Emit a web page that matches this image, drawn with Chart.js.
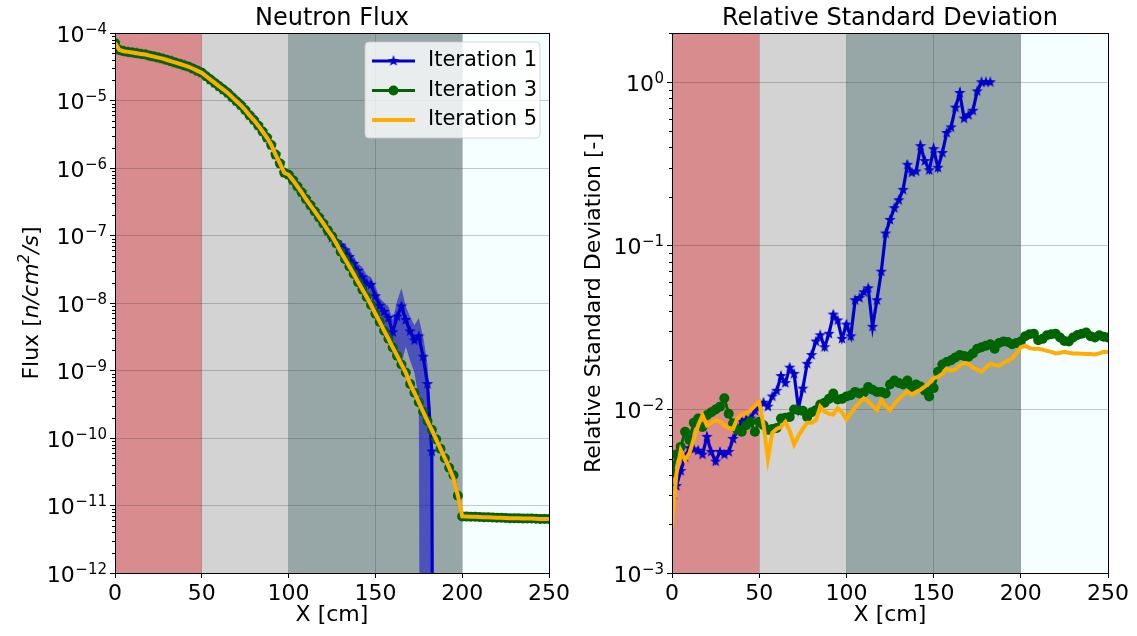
<!DOCTYPE html>
<html>
<head>
<meta charset="utf-8">
<script src="https://cdn.jsdelivr.net/npm/chart.js@4"></script>
<style>
  html, body { margin: 0; padding: 0; background: #fff; }
  #wrap { position: relative; width: 1137px; height: 636px; overflow: hidden; }
  canvas { position: absolute; top: 0; }
  #fluxChart { left: 0; }
  #rsdChart { left: 560px; }
</style>
</head>
<body>
<div id="wrap">
  <canvas id="fluxChart" width="600" height="636"></canvas>
  <canvas id="rsdChart" width="577" height="636"></canvas>
</div>
<script>
// mesh positions [cm]
const X_CM = [
  0, 2.5, 5, 7.5, 10, 12.5, 15, 17.5, 20, 22.5,
  25, 27.5, 30, 32.5, 35, 37.5, 40, 42.5, 45, 47.5,
  50, 52.5, 55, 57.5, 60, 62.5, 65, 67.5, 70, 72.5,
  75, 77.5, 80, 82.5, 85, 87.5, 90, 92.5, 95, 97.5,
  100, 102.5, 105, 107.5, 110, 112.5, 115, 117.5, 120, 122.5,
  125, 127.5, 130, 132.5, 135, 137.5, 140, 142.5, 145, 147.5,
  150, 152.5, 155, 157.5, 160, 162.5, 165, 167.5, 170, 172.5,
  175, 177.5, 180, 182.5, 185, 187.5, 190, 192.5, 195, 197.5,
  200, 202.5, 205, 207.5, 210, 212.5, 215, 217.5, 220, 222.5,
  225, 227.5, 230, 232.5, 235, 237.5, 240, 242.5, 245, 247.5,
  250
];

const SERIES_NAMES = ['Iteration 1', 'Iteration 3', 'Iteration 5'];

// neutron flux [n/cm^2/s]
const FLUX_IT1 = [
  7.08e-5, 5.62e-5, 5.37e-5, 5.25e-5, 5.13e-5, 5.01e-5, 4.90e-5, 4.79e-5, 4.62e-5, 4.47e-5,
  4.32e-5, 4.17e-5, 3.98e-5, 3.80e-5, 3.63e-5, 3.47e-5, 3.31e-5, 3.16e-5, 2.95e-5, 2.75e-5,
  2.57e-5, 2.29e-5, 2.04e-5, 1.82e-5, 1.62e-5, 1.45e-5, 1.29e-5, 1.12e-5, 9.77e-6, 8.51e-6,
  7.24e-6, 6.03e-6, 5.13e-6, 4.27e-6, 3.47e-6, 2.82e-6, 2.19e-6, 1.58e-6, 1.17e-6, 8.51e-7,
  7.94e-7, 6.61e-7, 5.37e-7, 4.37e-7, 3.47e-7, 2.82e-7, 2.29e-7, 1.86e-7, 1.51e-7, 1.15e-7,
  9.3e-8, 7.9e-8, 7.1e-8, 6.0e-8, 4.8e-8, 3.8e-8, 3.0e-8, 2.4e-8, 1.95e-8, 1.86e-8,
  1.26e-8, 9.1e-9, 7.4e-9, 6.0e-9, 3.7e-9, 6.3e-9, 8.9e-9, 5.6e-9, 3.8e-9, 2.8e-9,
  3.2e-9, 1.6e-9, 6.3e-10, 6.3e-11, 0, null, null, null, null, null,
  null, null, null, null, null, null, null, null, null, null,
  null, null, null, null, null, null, null, null, null, null,
  null
];
const FLUX_IT3 = [
  7.08e-5, 5.62e-5, 5.37e-5, 5.25e-5, 5.13e-5, 5.01e-5, 4.90e-5, 4.79e-5, 4.62e-5, 4.47e-5,
  4.32e-5, 4.17e-5, 3.98e-5, 3.80e-5, 3.63e-5, 3.47e-5, 3.31e-5, 3.16e-5, 2.95e-5, 2.75e-5,
  2.57e-5, 2.29e-5, 2.04e-5, 1.82e-5, 1.62e-5, 1.45e-5, 1.29e-5, 1.12e-5, 9.77e-6, 8.51e-6,
  7.24e-6, 6.03e-6, 5.13e-6, 4.27e-6, 3.47e-6, 2.82e-6, 2.19e-6, 1.58e-6, 1.17e-6, 8.51e-7,
  7.94e-7, 6.61e-7, 5.37e-7, 4.37e-7, 3.47e-7, 2.82e-7, 2.29e-7, 1.86e-7, 1.51e-7, 1.20e-7,
  9.77e-8, 7.59e-8, 5.75e-8, 4.47e-8, 3.47e-8, 2.69e-8, 2.04e-8, 1.58e-8, 1.23e-8, 9.33e-9,
  6.92e-9, 5.25e-9, 3.89e-9, 2.95e-9, 2.19e-9, 1.66e-9, 1.23e-9, 9.33e-10, 6.31e-10, 4.68e-10,
  3.39e-10, 2.45e-10, 1.78e-10, 1.32e-10, 9.55e-11, 6.92e-11, 5.01e-11, 3.63e-11, 2.8e-11, 1.4e-11,
  6.9e-12, 6.85e-12, 6.8e-12, 6.8e-12, 6.75e-12, 6.7e-12, 6.7e-12, 6.65e-12, 6.6e-12, 6.6e-12,
  6.55e-12, 6.5e-12, 6.5e-12, 6.45e-12, 6.4e-12, 6.4e-12, 6.4e-12, 6.35e-12, 6.3e-12, 6.3e-12,
  6.3e-12
];
const FLUX_IT5 = [
  7.08e-5, 5.62e-5, 5.37e-5, 5.25e-5, 5.13e-5, 5.01e-5, 4.90e-5, 4.79e-5, 4.62e-5, 4.47e-5,
  4.32e-5, 4.17e-5, 3.98e-5, 3.80e-5, 3.63e-5, 3.47e-5, 3.31e-5, 3.16e-5, 2.95e-5, 2.75e-5,
  2.57e-5, 2.29e-5, 2.04e-5, 1.82e-5, 1.62e-5, 1.45e-5, 1.29e-5, 1.12e-5, 9.77e-6, 8.51e-6,
  7.24e-6, 6.03e-6, 5.13e-6, 4.27e-6, 3.47e-6, 2.82e-6, 2.19e-6, 1.58e-6, 1.17e-6, 8.51e-7,
  7.94e-7, 6.61e-7, 5.37e-7, 4.37e-7, 3.47e-7, 2.82e-7, 2.29e-7, 1.86e-7, 1.51e-7, 1.20e-7,
  9.77e-8, 7.59e-8, 5.75e-8, 4.47e-8, 3.47e-8, 2.69e-8, 2.04e-8, 1.58e-8, 1.23e-8, 9.33e-9,
  6.92e-9, 5.25e-9, 3.89e-9, 2.95e-9, 2.19e-9, 1.66e-9, 1.23e-9, 9.33e-10, 6.31e-10, 4.68e-10,
  3.39e-10, 2.45e-10, 1.78e-10, 1.32e-10, 9.55e-11, 6.92e-11, 5.01e-11, 3.63e-11, 2.51e-11, 1.41e-11,
  6.92e-12, 6.85e-12, 6.8e-12, 6.8e-12, 6.75e-12, 6.7e-12, 6.7e-12, 6.65e-12, 6.6e-12, 6.6e-12,
  6.55e-12, 6.5e-12, 6.5e-12, 6.45e-12, 6.4e-12, 6.4e-12, 6.4e-12, 6.35e-12, 6.3e-12, 6.3e-12,
  6.3e-12
];

// relative standard deviation [-]
const RSD_IT1 = [
  2.8e-3, 3.4e-3, 4.2e-3, 5.1e-3, 5.8e-3, 5.7e-3, 5.6e-3, 5.3e-3, 6.8e-3, 5.5e-3,
  4.8e-3, 5.5e-3, 5.3e-3, 5.5e-3, 6.6e-3, 7.4e-3, 8.4e-3, 8.6e-3, 8.8e-3, 9.8e-3,
  1.04e-2, 1.1e-2, 1.04e-2, 1.2e-2, 1.3e-2, 1.6e-2, 1.45e-2, 1.8e-2, 1.65e-2, 1.02e-2,
  1.34e-2, 1.9e-2, 2.15e-2, 2.6e-2, 2.84e-2, 2.4e-2, 2.9e-2, 3.8e-2, 3.5e-2, 2.7e-2,
  3.3e-2, 2.8e-2, 4.65e-2, 4.8e-2, 5.2e-2, 5.5e-2, 3.2e-2, 4.65e-2, 6.95e-2, 1.19e-1,
  1.44e-1, 1.7e-1, 1.9e-1, 2.2e-1, 3.13e-1, 2.8e-1, 2.85e-1, 4.07e-1, 3.3e-1, 2.9e-1,
  3.9e-1, 3.0e-1, 3.7e-1, 4.9e-1, 5.3e-1, 7.0e-1, 8.6e-1, 6.0e-1, 6.3e-1, 6.7e-1,
  8.8e-1, 1.0, 1.0, 1.0, null, null, null, null, null, null,
  null, null, null, null, null, null, null, null, null, null,
  null, null, null, null, null, null, null, null, null, null,
  null
];
const RSD_IT3 = [
  4.1e-3, 5.3e-3, 5.9e-3, 7.3e-3, 6.5e-3, 8.3e-3, 8.8e-3, 7.8e-3, 9.2e-3, 9.6e-3,
  1.0e-2, 1.04e-2, 1.17e-2, 9.4e-3, 8.2e-3, 7.5e-3, 7.3e-3, 8.0e-3, 8.4e-3, 7.3e-3,
  8.4e-3, 8.0e-3, 7.5e-3, 7.6e-3, 7.7e-3, 8.8e-3, 8.9e-3, 9.0e-3, 1.0e-2, 9.9e-3,
  9.8e-3, 9.0e-3, 9.6e-3, 9.9e-3, 1.07e-2, 1.1e-2, 1.16e-2, 1.25e-2, 1.15e-2, 1.16e-2,
  1.2e-2, 1.22e-2, 1.28e-2, 1.25e-2, 1.27e-2, 1.37e-2, 1.32e-2, 1.28e-2, 1.28e-2, 1.25e-2,
  1.42e-2, 1.5e-2, 1.45e-2, 1.42e-2, 1.5e-2, 1.37e-2, 1.42e-2, 1.38e-2, 1.3e-2, 1.2e-2,
  1.35e-2, 1.7e-2, 1.88e-2, 1.95e-2, 2.0e-2, 2.08e-2, 2.15e-2, 2.12e-2, 2.1e-2, 2.2e-2,
  2.35e-2, 2.4e-2, 2.45e-2, 2.5e-2, 2.35e-2, 2.55e-2, 2.6e-2, 2.58e-2, 2.5e-2, 2.55e-2,
  2.6e-2, 2.8e-2, 2.88e-2, 2.9e-2, 2.65e-2, 2.7e-2, 2.84e-2, 2.88e-2, 2.9e-2, 2.75e-2,
  2.62e-2, 2.6e-2, 2.75e-2, 2.85e-2, 2.9e-2, 2.95e-2, 2.8e-2, 2.75e-2, 2.84e-2, 2.78e-2,
  2.75e-2
];
const RSD_IT5 = [
  1.9e-3, 4.0e-3, 5.6e-3, 4.9e-3, 5.4e-3, 6.6e-3, 8.0e-3, 9.2e-3, 8.0e-3, 8.3e-3,
  8.6e-3, 8.4e-3, 8.0e-3, 7.7e-3, 7.6e-3, 8.8e-3, 9.3e-3, 9.5e-3, 9.9e-3, 1.05e-2,
  1.11e-2, 8.0e-3, 5.0e-3, 7.2e-3, 7.6e-3, 7.8e-3, 8.4e-3, 7.4e-3, 6.1e-3, 6.9e-3,
  7.6e-3, 8.3e-3, 8.3e-3, 8.6e-3, 1.04e-2, 9.7e-3, 9.4e-3, 9.3e-3, 1.02e-2, 9.6e-3,
  8.7e-3, 9.5e-3, 1.03e-2, 1.1e-2, 1.17e-2, 1.12e-2, 1.05e-2, 9.9e-3, 1.14e-2, 1.05e-2,
  9.9e-3, 1.08e-2, 1.16e-2, 1.22e-2, 1.29e-2, 1.23e-2, 1.28e-2, 1.32e-2, 1.38e-2, 1.45e-2,
  1.55e-2, 1.58e-2, 1.65e-2, 1.78e-2, 1.72e-2, 1.76e-2, 1.86e-2, 1.92e-2, 1.9e-2, 1.8e-2,
  1.75e-2, 1.7e-2, 1.8e-2, 1.9e-2, 1.87e-2, 1.85e-2, 1.92e-2, 1.98e-2, 2.05e-2, 2.2e-2,
  2.4e-2, 2.45e-2, 2.37e-2, 2.35e-2, 2.35e-2, 2.32e-2, 2.28e-2, 2.25e-2, 2.2e-2, 2.22e-2,
  2.25e-2, 2.22e-2, 2.2e-2, 2.2e-2, 2.19e-2, 2.18e-2, 2.18e-2, 2.17e-2, 2.2e-2, 2.25e-2,
  2.24e-2
];

// material regions along X
const REGION_EDGES = [0, 50, 100, 200, 250];
const REGION_COLORS = ['#d98c8d', '#d3d3d3', '#97a7a7', '#f5ffff'];

const BLUE = '#0000cd';
const GREEN = '#006400';
const ORANGE = '#ffae00';
const GRID = 'rgba(60,60,60,0.28)';
const FAMILY = '"DejaVu Sans", sans-serif';
const FONT = { family: FAMILY, size: 22 };
const ZERO_ON_LOG = 1e-30; // a zero flux drawn off the bottom of the log axis

Chart.defaults.font.family = FAMILY;
Chart.defaults.color = '#000';

function makeStar(size, color) {
  const c = document.createElement('canvas');
  c.width = size; c.height = size;
  const g = c.getContext('2d');
  const R = size / 2, r = R * 0.4;
  g.beginPath();
  for (let i = 0; i < 10; i++) {
    const rad = i % 2 === 0 ? R : r;
    const ang = -Math.PI / 2 + i * Math.PI / 5;
    g.lineTo(R + rad * Math.cos(ang), R + rad * Math.sin(ang));
  }
  g.closePath();
  g.fillStyle = color;
  g.fill();
  return c;
}
const starMarker = makeStar(12, BLUE);

function points(ys) {
  return X_CM.map((x, i) => ({ x: x, y: ys[i] === 0 ? ZERO_ON_LOG : ys[i] }));
}

const bandUpper = X_CM.map((x, i) => ({
  x: x,
  y: FLUX_IT1[i] == null || RSD_IT1[i] == null ? null : FLUX_IT1[i] * (1 + RSD_IT1[i])
}));
const bandLower = X_CM.map((x, i) => ({
  x: x,
  y: FLUX_IT1[i] == null || RSD_IT1[i] == null ? null : Math.max(FLUX_IT1[i] * (1 - RSD_IT1[i]), ZERO_ON_LOG)
}));

function decadeTicks(scale) {
  const out = [];
  const lo = Math.floor(Math.log10(scale.min) + 1e-9);
  const hi = Math.ceil(Math.log10(scale.max) - 1e-9);
  for (let e = lo; e <= hi; e++) {
    for (let m = 1; m < 10; m++) {
      const v = m * Math.pow(10, e);
      if (v >= scale.min * 0.999 && v <= scale.max * 1.001) out.push({ value: v, major: m === 1 });
    }
  }
  scale.ticks = out;
}

// "10" with a raised exponent, like the original mathtext labels
function drawPowerLabel(ctx, value, xr, py) {
  const e = String(Math.round(Math.log10(value))).replace('-', '\u2212');
  ctx.font = '15px ' + FAMILY;
  const ew = ctx.measureText(e).width;
  ctx.textAlign = 'right';
  ctx.textBaseline = 'alphabetic';
  ctx.fillText(e, xr, py + 0.5);
  ctx.font = '22px ' + FAMILY;
  ctx.fillText('10', xr - ew - 0.5, py + 8.5);
}

// rotated axis title made of runs: [text, italic, superscript]
function drawRuns(ctx, runs, cx, cy) {
  const fontOf = (r) => (r[1] ? 'italic ' : '') + (r[2] ? '15px ' : '22px ') + FAMILY;
  let total = 0;
  runs.forEach(r => { ctx.font = fontOf(r); total += ctx.measureText(r[0]).width; });
  ctx.save();
  ctx.translate(cx, cy);
  ctx.rotate(-Math.PI / 2);
  ctx.textAlign = 'left';
  ctx.textBaseline = 'alphabetic';
  let x = -total / 2;
  runs.forEach(r => {
    ctx.font = fontOf(r);
    ctx.fillText(r[0], x, r[2] ? -1 : 8);
    x += ctx.measureText(r[0]).width;
  });
  ctx.restore();
}

const regionBands = {
  id: 'regionBands',
  beforeDraw(chart) {
    const { ctx, chartArea: a, scales: { x } } = chart;
    ctx.save();
    for (let i = 0; i < REGION_COLORS.length; i++) {
      const x0 = x.getPixelForValue(REGION_EDGES[i]);
      const x1 = x.getPixelForValue(REGION_EDGES[i + 1]);
      ctx.fillStyle = REGION_COLORS[i];
      ctx.fillRect(x0, a.top, x1 - x0, a.bottom - a.top);
    }
    ctx.restore();
  }
};

const panelFrame = {
  id: 'panelFrame',
  afterDraw(chart, args, opts) {
    const { ctx, chartArea: a, scales: { y } } = chart;
    ctx.save();
    ctx.strokeStyle = '#000';
    ctx.fillStyle = '#000';
    ctx.lineWidth = 1;
    y.ticks.forEach(t => {
      const py = y.getPixelForValue(t.value);
      if (t.major) {
        drawPowerLabel(ctx, t.value, a.left - 8, py);
      } else {
        const yy = Math.round(py) + 0.5;
        ctx.beginPath();
        ctx.moveTo(a.left - 3, yy);
        ctx.lineTo(a.left, yy);
        ctx.stroke();
      }
    });
    ctx.strokeRect(Math.round(a.left) + 0.5, Math.round(a.top) + 0.5,
      Math.round(a.right - a.left), Math.round(a.bottom - a.top));
    ctx.font = '24px ' + FAMILY;
    ctx.textAlign = 'center';
    ctx.textBaseline = 'middle';
    ctx.fillText(opts.text, (a.left + a.right) / 2, 19);
    if (opts.yRuns) drawRuns(ctx, opts.yRuns, opts.yTitleX, (a.top + a.bottom) / 2);
    ctx.restore();
  }
};

const fluxLegend = {
  id: 'fluxLegend',
  afterDraw(chart) {
    const { ctx, chartArea: a } = chart;
    const w = 175, h = 96;
    const left = a.right - 9 - w, top = a.top + 9;
    ctx.save();
    ctx.beginPath();
    ctx.roundRect(left, top, w, h, 4);
    ctx.fillStyle = 'rgba(255,255,255,0.8)';
    ctx.fill();
    ctx.strokeStyle = 'rgba(204,204,204,0.8)';
    ctx.lineWidth = 1;
    ctx.stroke();
    const shown = [chart.data.datasets[2], chart.data.datasets[1], chart.data.datasets[0]];
    shown.forEach((ds, k) => {
      const yy = top + 19 + k * 29.5;
      ctx.strokeStyle = ds.borderColor;
      ctx.lineWidth = ds.borderWidth;
      ctx.beginPath();
      ctx.moveTo(left + 7, yy);
      ctx.lineTo(left + 50, yy);
      ctx.stroke();
      if (ds.pointStyle instanceof HTMLCanvasElement) {
        ctx.drawImage(ds.pointStyle, left + 28.5 - ds.pointStyle.width / 2, yy - ds.pointStyle.height / 2);
      } else if (ds.pointRadius > 0) {
        ctx.beginPath();
        ctx.arc(left + 28.5, yy, ds.pointRadius, 0, Math.PI * 2);
        ctx.fillStyle = ds.pointBackgroundColor;
        ctx.fill();
      }
      ctx.fillStyle = '#000';
      ctx.font = '21px ' + FAMILY;
      ctx.textAlign = 'left';
      ctx.textBaseline = 'middle';
      ctx.fillText(ds.label, left + 63, yy);
    });
    ctx.restore();
  }
};

function lineSet(label, data, color, width, extra) {
  return Object.assign({
    label: label,
    data: data,
    borderColor: color,
    backgroundColor: color,
    borderWidth: width,
    pointRadius: 0,
    pointHoverRadius: 0,
    pointBorderWidth: 0,
    pointBackgroundColor: color,
    tension: 0,
    spanGaps: false,
    fill: false,
    clip: 0
  }, extra || {});
}

function axes(yMin, yMax, yTitle, yWidth, yTitlePad) {
  return {
    x: {
      type: 'linear',
      min: 0,
      max: 250,
      ticks: { stepSize: 50, font: FONT, color: '#000', padding: 3, maxRotation: 0 },
      grid: { color: GRID, tickColor: '#000', tickLength: 5 },
      border: { display: false },
      title: { display: true, text: 'X [cm]', font: FONT, color: '#000', padding: { top: 0, bottom: 8 } },
      afterFit: (s) => { s.height = 63; s.paddingLeft = 0; s.paddingRight = 0; }
    },
    y: {
      type: 'logarithmic',
      min: yMin,
      max: yMax,
      afterBuildTicks: decadeTicks,
      ticks: { autoSkip: false, font: FONT, callback: () => '' },
      grid: {
        color: (c) => (c.tick && c.tick.major ? GRID : 'rgba(0,0,0,0)'),
        tickColor: (c) => (c.tick && c.tick.major ? '#000' : 'rgba(0,0,0,0)'),
        tickLength: 5
      },
      border: { display: false },
      title: { display: !!yTitle, text: yTitle, font: FONT, color: '#000', padding: { top: yTitlePad, bottom: 0 } },
      afterFit: (s) => { s.width = yWidth; s.paddingTop = 0; s.paddingBottom = 0; }
    }
  };
}

new Chart(document.getElementById('fluxChart'), {
  type: 'line',
  data: {
    datasets: [
      lineSet(SERIES_NAMES[2], points(FLUX_IT5), ORANGE, 4, { order: 0 }),
      lineSet(SERIES_NAMES[1], points(FLUX_IT3), GREEN, 3, { order: 1, pointRadius: 5 }),
      lineSet(SERIES_NAMES[0], points(FLUX_IT1), BLUE, 3.2, { order: 2, pointRadius: 6, pointStyle: starMarker }),
      lineSet('band upper', bandUpper, 'rgba(0,0,0,0)', 0, { order: 3 }),
      lineSet('band lower', bandLower, 'rgba(0,0,0,0)', 0, { order: 3, fill: 3, backgroundColor: 'rgba(0,0,205,0.5)' })
    ]
  },
  options: {
    responsive: false,
    animation: false,
    events: [],
    layout: { padding: { top: 33, right: 51, bottom: 0, left: 0 } },
    plugins: {
      legend: { display: false },
      tooltip: { enabled: false },
      panelFrame: {
        text: 'Neutron Flux',
        yTitleX: 30,
        yRuns: [['Flux [', false, false], ['n/cm', true, false], ['2', true, true], ['/s', true, false], [']', false, false]]
      }
    },
    scales: axes(1e-12, 1e-4, '', 115, 18)
  },
  plugins: [regionBands, panelFrame, fluxLegend]
});

new Chart(document.getElementById('rsdChart'), {
  type: 'line',
  data: {
    datasets: [
      lineSet(SERIES_NAMES[2], points(RSD_IT5), ORANGE, 4, { order: 0 }),
      lineSet(SERIES_NAMES[1], points(RSD_IT3), GREEN, 3, { order: 1, pointRadius: 5 }),
      lineSet(SERIES_NAMES[0], points(RSD_IT1), BLUE, 3.2, { order: 2, pointRadius: 6, pointStyle: starMarker })
    ]
  },
  options: {
    responsive: false,
    animation: false,
    events: [],
    layout: { padding: { top: 33, right: 29, bottom: 0, left: 0 } },
    plugins: {
      legend: { display: false },
      tooltip: { enabled: false },
      panelFrame: { text: 'Relative Standard Deviation' }
    },
    scales: axes(1e-3, 2, 'Relative Standard Deviation [-]', 112, 21)
  },
  plugins: [regionBands, panelFrame]
});
</script>
</body>
</html>
